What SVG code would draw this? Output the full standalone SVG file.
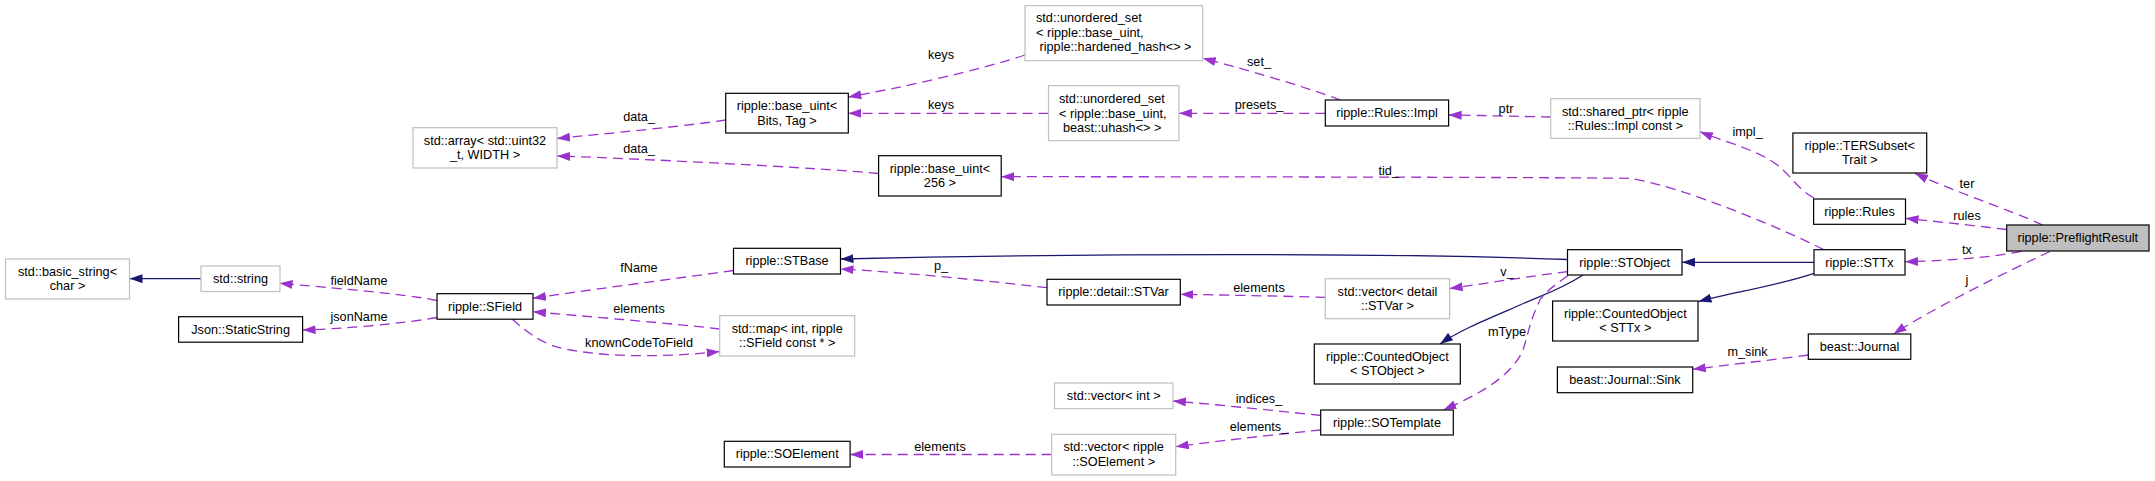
<svg xmlns="http://www.w3.org/2000/svg" width="2155" height="481" viewBox="0 0 2155 481">
<style>
text{font-family:"Liberation Sans",Arial,sans-serif;font-size:12.7px;fill:#000}
.c{text-anchor:middle}
.s{text-anchor:start}
.nb{fill:#fff;stroke:#000;stroke-width:1.2}
.ng{fill:#fff;stroke:#bfbfbf;stroke-width:1.2}
.nh{fill:#bfbfbf;stroke:#000;stroke-width:1.2}
.u{fill:none;stroke:#9a32cd;stroke-width:1.3;stroke-dasharray:10,6;marker-end:url(#ap)}
.i{fill:none;stroke:#191970;stroke-width:1.3;marker-end:url(#an)}
</style>
<defs>
<marker id="ap" markerUnits="userSpaceOnUse" viewBox="0 0 13 9" refX="13" refY="4.5" markerWidth="13" markerHeight="9" orient="auto"><path d="M0,0 L13,4.5 L0,9 z" fill="#9a32cd"/></marker>
<marker id="an" markerUnits="userSpaceOnUse" viewBox="0 0 13 9" refX="13" refY="4.5" markerWidth="13" markerHeight="9" orient="auto"><path d="M0,0 L13,4.5 L0,9 z" fill="#191970"/></marker>
</defs>
<rect width="2155" height="481" fill="#fff"/>
<g id="edges">
<path class="i" d="M201,278.7 L129.5,278.7"/>
<path class="u" d="M437,300.5 C400,293 320,287 279.6,283.3"/>
<path class="u" d="M437,317.5 C400,324 340,329 302.6,330"/>
<path class="u" d="M733.5,270.5 C680,278 580,291 533,298.3"/>
<path class="u" d="M719.7,329 C680,324 580,316 533,311.7"/>
<path class="u" d="M512,319 C530,335 545,345 565,349 C610,358 670,357 719.7,351.5"/>
<path class="u" d="M725.7,120 C680,127 600,134 557,138.5"/>
<path class="u" d="M878.6,173.5 C820,168 650,159 557,156"/>
<path class="u" d="M1025,55 C980,70 900,88 848.3,97"/>
<path class="u" d="M1048.5,113.3 L848.3,113.3"/>
<path class="u" d="M1340.5,100 C1300,85 1240,68 1202.7,58.3"/>
<path class="u" d="M1325.3,113.3 L1178.9,113.3"/>
<path class="u" d="M1550.7,117 C1520,116.5 1480,115.5 1448.6,115"/>
<path class="u" d="M1814,198 C1795,188 1790,172 1770,160 C1750,148 1720,140 1700,131.7"/>
<path class="u" d="M2042.7,225 C2010,210 1950,190 1915,173.3"/>
<path class="u" d="M2006.7,229.5 C1970,225 1930,221 1905.5,218.3"/>
<path class="u" d="M2021,251.3 C1990,258 1940,261 1905,261.7"/>
<path class="u" d="M2050,251.5 C2010,270 1930,310 1893.5,334"/>
<path class="i" d="M1814,262.3 L1682,262.3"/>
<path class="i" d="M1814,273.3 C1780,285 1730,293 1698.5,301.5"/>
<path class="i" d="M1567.5,259.5 C1400,253 1100,253 840.5,259"/>
<path class="i" d="M1583,275 C1560,290 1540,296 1520,305 C1490,318 1460,330 1440,344"/>
<path class="u" d="M1567.5,271.7 C1530,276 1490,283 1449.6,288.5"/>
<path class="u" d="M1325.3,297.3 C1280,296 1220,295 1180.3,294.3"/>
<path class="u" d="M1047,287.7 C980,280 900,272 840.5,269"/>
<path class="u" d="M1568,275.5 C1555,285 1545,292 1540,300 C1530,320 1528,335 1523,350 C1510,380 1470,398 1443.3,410"/>
<path class="u" d="M1320.7,415.5 C1270,410 1210,404 1172.9,401"/>
<path class="u" d="M1320.7,430 C1270,435 1210,442 1175.7,446.7"/>
<path class="u" d="M1051.7,454.5 L850.1,454.5"/>
<path class="u" d="M1808.3,355 C1770,360 1720,366 1692.7,369.3"/>
<path class="u" d="M1823.7,249.7 C1790,232 1680,185 1628.7,178.3 C1500,177 1150,176.7 1001.2,176.7"/>
<text class="c" x="639" y="121">data_</text>
<text class="c" x="639" y="153">data_</text>
<text class="c" x="941" y="59.3">keys</text>
<text class="c" x="941" y="109.3">keys</text>
<text class="c" x="1259" y="66">set_</text>
<text class="c" x="1259" y="109.3">presets_</text>
<text class="c" x="1506" y="112.6">ptr</text>
<text class="c" x="1747.6" y="136">impl_</text>
<text class="c" x="1388.7" y="175">tid_</text>
<text class="c" x="1967" y="187.6">ter</text>
<text class="c" x="1967" y="220">rules</text>
<text class="c" x="1967" y="253.6">tx</text>
<text class="c" x="1967" y="284.3">j</text>
<text class="c" x="359" y="285.3">fieldName</text>
<text class="c" x="359" y="321">jsonName</text>
<text class="c" x="639" y="272">fName</text>
<text class="c" x="639" y="313.3">elements</text>
<text class="c" x="639" y="346.6">knownCodeToField</text>
<text class="c" x="941" y="270">p_</text>
<text class="c" x="1259" y="292">elements</text>
<text class="c" x="1507" y="276">v_</text>
<text class="c" x="1507" y="336">mType</text>
<text class="c" x="1259" y="403.3">indices_</text>
<text class="c" x="1259" y="431">elements_</text>
<text class="c" x="940" y="451">elements</text>
<text class="c" x="1747.6" y="356">m_sink</text>
</g>
<g id="n-basic_string"><rect class="ng" x="5.5" y="259" width="124" height="40"/><text class="c" x="67.5" y="276.1">std::basic_string&lt;</text><text class="c" x="67.5" y="290.4">char &gt;</text></g>
<g id="n-string"><rect class="ng" x="201" y="266" width="79" height="25.5"/><text class="c" x="240.5" y="283">std::string</text></g>
<g id="n-json"><rect class="nb" x="178.6" y="316.7" width="124" height="25.5"/><text class="c" x="240.6" y="333.7">Json::StaticString</text></g>
<g id="n-sfield"><rect class="nb" x="437" y="293.7" width="96" height="25.5"/><text class="c" x="485" y="310.7">ripple::SField</text></g>
<g id="n-array"><rect class="ng" x="413" y="127.7" width="144" height="40.3"/><text class="c" x="485" y="144.8">std::array&lt; std::uint32</text><text class="c" x="485" y="159.1">_t, WIDTH &gt;</text></g>
<g id="n-base_uint_bt"><rect class="nb" x="725.7" y="93.3" width="122.6" height="39.7"/><text class="c" x="787" y="110.4">ripple::base_uint&lt;</text><text class="c" x="787" y="124.7">Bits, Tag &gt;</text></g>
<g id="n-stbase"><rect class="nb" x="733.5" y="248.3" width="107" height="25.7"/><text class="c" x="787" y="265.3">ripple::STBase</text></g>
<g id="n-map"><rect class="ng" x="719.7" y="315.7" width="135" height="40.3"/><text class="c" x="787.2" y="332.8">std::map&lt; int, ripple</text><text class="c" x="787.2" y="347.1">::SField const * &gt;</text></g>
<g id="n-soelement"><rect class="nb" x="724.3" y="441.3" width="125.8" height="25.7"/><text class="c" x="787.2" y="458.3">ripple::SOElement</text></g>
<g id="n-base_uint_256"><rect class="nb" x="878.6" y="155.7" width="122.6" height="40.3"/><text class="c" x="939.9" y="172.8">ripple::base_uint&lt;</text><text class="c" x="939.9" y="187.1">256 &gt;</text></g>
<g id="n-uset_hardened"><rect class="ng" x="1025" y="5.7" width="177.7" height="55"/><text class="s" x="1036" y="22">std::unordered_set</text><text class="s" x="1036" y="36.6">&lt; ripple::base_uint,</text><text class="s" x="1039.5" y="51">ripple::hardened_hash&lt;&gt; &gt;</text></g>
<g id="n-uset_uhash"><rect class="ng" x="1048.5" y="85.7" width="130.4" height="55"/><text class="s" x="1059" y="102.6">std::unordered_set</text><text class="s" x="1059" y="117.6">&lt; ripple::base_uint,</text><text class="s" x="1063" y="132">beast::uhash&lt;&gt; &gt;</text></g>
<g id="n-stvar"><rect class="nb" x="1047" y="279.3" width="133.3" height="25.7"/><text class="c" x="1113.6" y="296.3">ripple::detail::STVar</text></g>
<g id="n-vector_int"><rect class="ng" x="1054.5" y="383" width="118.4" height="25.7"/><text class="c" x="1113.7" y="400">std::vector&lt; int &gt;</text></g>
<g id="n-vector_soelement"><rect class="ng" x="1051.7" y="434.3" width="124" height="40.7"/><text class="c" x="1113.7" y="451.4">std::vector&lt; ripple</text><text class="c" x="1113.7" y="465.7">::SOElement &gt;</text></g>
<g id="n-rules_impl"><rect class="nb" x="1325.3" y="100" width="123.3" height="26"/><text class="c" x="1387" y="117">ripple::Rules::Impl</text></g>
<g id="n-vector_stvar"><rect class="ng" x="1325.3" y="278.7" width="124.3" height="40"/><text class="c" x="1387.5" y="295.8">std::vector&lt; detail</text><text class="c" x="1387.5" y="310.1">::STVar &gt;</text></g>
<g id="n-counted_stobject"><rect class="nb" x="1314.3" y="344" width="146" height="40"/><text class="c" x="1387.3" y="361.1">ripple::CountedObject</text><text class="c" x="1387.3" y="375.4">&lt; STObject &gt;</text></g>
<g id="n-sotemplate"><rect class="nb" x="1320.7" y="410" width="132.6" height="25"/><text class="c" x="1387" y="426.8">ripple::SOTemplate</text></g>
<g id="n-shared_ptr"><rect class="ng" x="1550.7" y="98.7" width="149.3" height="39.6"/><text class="c" x="1625.3" y="115.8">std::shared_ptr&lt; ripple</text><text class="c" x="1625.3" y="130.1">::Rules::Impl const &gt;</text></g>
<g id="n-stobject"><rect class="nb" x="1567.5" y="249.7" width="114.5" height="25.3"/><text class="c" x="1624.7" y="266.6">ripple::STObject</text></g>
<g id="n-counted_sttx"><rect class="nb" x="1552.6" y="301" width="145.4" height="40"/><text class="c" x="1625.3" y="318.1">ripple::CountedObject</text><text class="c" x="1625.3" y="332.4">&lt; STTx &gt;</text></g>
<g id="n-sink"><rect class="nb" x="1557.4" y="367" width="135.3" height="25.7"/><text class="c" x="1625" y="384">beast::Journal::Sink</text></g>
<g id="n-tersubset"><rect class="nb" x="1792.9" y="133" width="133.8" height="40"/><text class="c" x="1859.8" y="150.1">ripple::TERSubset&lt;</text><text class="c" x="1859.8" y="164.4">Trait &gt;</text></g>
<g id="n-rules"><rect class="nb" x="1813.6" y="199" width="91.9" height="25.3"/><text class="c" x="1859.5" y="216">ripple::Rules</text></g>
<g id="n-sttx"><rect class="nb" x="1814" y="249.7" width="91" height="25.3"/><text class="c" x="1859.5" y="266.6">ripple::STTx</text></g>
<g id="n-journal"><rect class="nb" x="1808.3" y="334" width="102.5" height="25.3"/><text class="c" x="1859.5" y="351">beast::Journal</text></g>
<g id="n-preflight"><rect class="nh" x="2006.7" y="225" width="142.3" height="26"/><text class="c" x="2077.8" y="242.3">ripple::PreflightResult</text></g>
</svg>
